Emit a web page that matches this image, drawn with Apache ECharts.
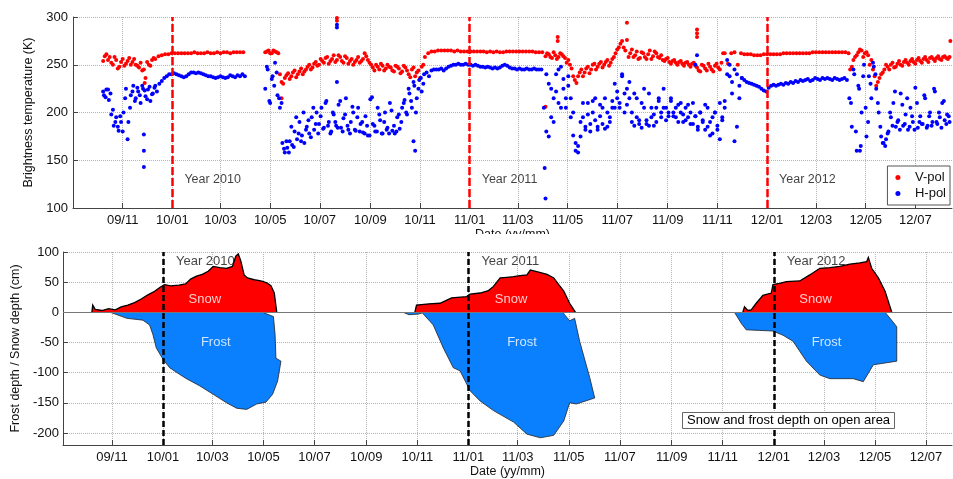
<!DOCTYPE html>
<html>
<head>
<meta charset="utf-8">
<title>Brightness temperature and snow / frost depth</title>
<script src="https://cdn.jsdelivr.net/npm/echarts@6/dist/echarts.min.js"></script>
<style>
  html, body { margin: 0; padding: 0; background: #fff; }
  #chart { width: 953px; height: 479px; }
</style>
</head>
<body>
<div id="chart"></div>
<script>
// tick labels (yy/mm), every second month
const monthTicks = ['2009-11-01', '2010-01-01', '2010-03-01', '2010-05-01', '2010-07-01', '2010-09-01',
  '2010-11-01', '2011-01-01', '2011-03-01', '2011-05-01', '2011-07-01', '2011-09-01', '2011-11-01',
  '2012-01-01', '2012-03-01', '2012-05-01', '2012-07-01']
const depthTicks = [-200, -150, -100, -50, 0, 50, 100]
const yearLines = ['2010-01-01', '2011-01-01', '2012-01-01']
const yearNames = ['Year 2010', 'Year 2011', 'Year 2012']

// V-pol brightness temperature (K), one reading every 4 days from each start date
const vStep = 4
const vpol1 = [
  254, 261, 258, 250, 255, 248, 256, 251, 257, 253,
  250, 247, 244, 236, 250, 255, 256, 259, 260, 261,
  261, 262, 262, 262, 262, 262, 262, 262, 263, 262,
  262, 262, 263, 262, 262, 263, 262, 263, 263, 262,
  263, 263, 263, 263]
const vpol2 = [
  263, 265, 262, 264, 262, 232, 236, 241, 238, 244,
  240, 246, 243, 248, 245, 251, 249, 256, 252, 258,
  254, 260, 255, 258, 252, 257, 254, 250, 255, 252,
  256, 259, 252, 247, 250, 245, 249, 246, 248, 244,
  249, 246, 243, 247, 240, 245, 238, 244, 248, 258,
  262, 264, 264, 265, 265, 265, 265, 265, 264, 265,
  264, 264, 264, 264, 264, 264, 264, 264, 263, 264,
  263, 264, 263, 263, 264, 264, 264, 264, 264, 264,
  264, 264, 264, 263, 263, 263, 259, 261, 257, 260,
  258, 261, 257, 255, 246, 234, 238, 245, 242, 248,
  245, 251, 248, 253, 250, 255, 252, 258, 266, 272,
  268, 276, 262, 258, 264, 257, 262, 256, 265, 259,
  262, 257, 255, 256, 253, 254, 252, 253, 251, 252,
  250, 251, 249, 244, 250, 246, 251, 245, 249, 247,
  252, 262, 251, 262, 263, 250, 262, 261, 261, 261,
  260, 260, 260, 261, 261, 261, 261, 261, 261, 262,
  262, 262, 262, 262, 262, 262, 262, 262, 263, 263,
  263, 263, 263, 263, 263, 263, 263, 263, 263, 262,
  248, 258, 263, 265, 262, 260, 255, 238, 232, 240,
  245, 248, 250, 247, 251, 250, 253, 252, 254, 253,
  255, 254, 256, 255, 257, 256, 257, 256, 258, 257,
  258]
// second reading in the noisier stretches
const vpolB1 = [259, 255, 252, 258, 246, 253, 249, 254, 250, 256, 249, 252, 245, 253, 249, 257]
const vpolB2 = [
  264, 262, 265, 263, 240, 230, 239, 235, 242, 237,
  243, 240, 245, 250, 247, 253, 250, 254, 257, 251,
  256, 253, 260, 254, 259, 251, 256, 253, 258, 254,
  262, 255, 250, 244, 248, 251, 244, 250, 247, 243,
  248, 241, 249, 244, 237, 247, 242, 236, 250]
const vpolB3 = [
  262, 258, 263, 256, 262, 259, 252, 250, 238, 231,
  242, 238, 246, 241, 250, 245, 251, 247, 253, 249,
  256, 262, 268, 275, 265, 258, 266, 260, 256, 263,
  258, 261, 256, 264, 258, 260, 254, 257, 251, 255,
  250, 254, 249, 253, 248, 252, 247, 243, 249, 244,
  248, 243, 251, 245, 262]
const vpolB4 = [
  245, 255, 260, 266, 258, 263, 250, 245, 228, 236,
  242, 250, 245, 252, 248, 254, 249, 255, 250, 256,
  251, 257, 252, 258, 253, 258, 254, 259, 255, 259,
  256]
const vpolOdd = [['2009-11-28', 231], ['2010-05-15', 215], ['2010-07-22', 299], ['2010-07-22', 296],
  ['2011-04-04', 206], ['2011-04-19', 279], ['2011-04-19', 275], ['2011-07-13', 294],
  ['2011-10-07', 287], ['2011-10-07', 283], ['2011-10-07', 279], ['2012-08-13', 275]]
const vRuns = [['2009-10-08', vpol1], ['2010-04-25', vpol2], ['2009-10-10', vpolB1],
  ['2010-04-27', vpolB2], ['2011-04-06', vpolB3], ['2012-04-12', vpolB4]]

// H-pol brightness temperature (K), one reading every 3 days
const hStep = 3
const hpol1 = [
  222, 216, 224, 220, 203, 190, 185, 196, 180, 215,
  172, 205, 222, 212, 226, 218, 228, 223, 214, 227,
  219, 226, 222, 230, 233, 236, 238, 240, 240, 241,
  240, 239, 238, 237, 238, 240, 242, 242, 241, 242,
  241, 240, 239, 238, 238, 237, 236, 237, 238, 237,
  236, 237, 239, 238, 237, 239, 238, 240, 238]
const hpol2 = [
  225, 245, 210, 238, 252, 218, 205, 168, 158, 163,
  170, 166, 180, 172, 190, 176, 168, 185, 178, 195,
  182, 200, 188, 205, 184, 212, 190, 180, 198, 186,
  208, 184, 194, 215, 182, 190, 200, 181, 205, 188,
  179, 196, 176, 214, 188, 180, 205, 192, 178, 200,
  184, 210, 181, 178, 195, 183, 205, 213, 198, 220,
  205, 228, 215, 234, 222, 240, 242, 238, 244, 245,
  245, 245, 246, 244, 246, 248, 249, 250, 250, 251,
  250, 250, 251, 250, 250, 249, 250, 249, 248, 248,
  247, 248, 247, 246, 247, 246, 247, 249, 250, 249,
  247, 246, 246, 245, 246, 245, 245, 246, 245, 245,
  246, 245, 245, 245, 205, 180, 230, 195, 215, 240,
  210, 248, 225, 205, 238, 215, 200, 168, 158, 175,
  195, 182, 210, 188, 200, 215, 185, 196, 205, 183,
  200, 190, 212, 205, 222, 210, 238, 200, 225, 215,
  190, 220, 195, 188, 210, 225, 192, 186, 205, 198,
  190, 215, 200, 225, 205, 196, 212, 200, 195, 208,
  200, 190, 205, 195, 188, 210, 196, 185, 200, 192,
  182, 205, 190, 178, 200, 186, 210, 195, 205, 240,
  250, 232, 170, 240, 215, 236, 234, 232, 231, 230,
  229, 228, 227, 225, 223, 222, 226, 228, 229, 228,
  229, 230, 229, 231, 230, 232, 231, 233, 232, 234,
  233, 234, 235, 233, 234, 236, 235, 234, 236, 235,
  236, 235, 234, 236, 235, 234, 235, 236, 234, 215,
  185, 240, 160, 225, 200, 250, 175, 238, 215, 248,
  225, 200, 175, 168, 172, 180, 195, 210, 185, 192,
  220, 186, 198, 182, 205, 190, 226, 184, 196, 188,
  215, 186, 200, 190, 222, 188, 195, 210, 192, 198,
  190]
// second reading in the noisier stretches
const hpolB1 = [218, 224, 213, 198, 186, 195, 181, 190, 200, 225, 190, 218, 228, 215, 222, 210, 225,
  217, 224, 212, 220, 228]
const hpolB2 = [
  248, 212, 235, 228, 242, 215, 210, 162, 170, 158,
  185, 164, 195, 178, 170, 200, 182, 192, 174, 205,
  188, 178, 196, 183, 210, 186, 178, 200, 190, 184,
  212, 180, 198, 186, 178, 206, 182, 195, 180, 190,
  178, 186, 176, 216, 186, 180, 198, 178, 190, 182,
  178, 202, 186, 180, 198, 190, 210, 200, 225, 212,
  232, 200, 225, 236, 230]
const hpolB3 = [
  240, 175, 225, 190, 222, 245, 205, 235, 215, 228,
  195, 176, 160, 165, 190, 210, 185, 198, 180, 212,
  192, 182, 208, 188, 215, 185, 195, 205, 230, 215,
  205, 240, 220, 208, 232, 200, 186, 215, 192, 184,
  205, 188, 220, 195, 186, 205, 212, 195, 205, 192,
  200, 215, 196, 205, 190, 210, 198, 192, 208, 200,
  188, 196, 182, 200, 190, 208, 185, 176, 195, 200,
  182, 172, 192, 212, 255, 238, 220, 245, 185, 228,
  236]
const hpolB4 = [
  210, 245, 180, 228, 165, 238, 205, 190, 230, 252,
  240, 210, 185, 168, 165, 178, 200, 186, 222, 190,
  182, 208, 188, 215, 185, 196, 182, 210, 190, 188,
  218, 184, 196, 186, 225, 190, 200, 184, 212, 188,
  196]
const hpolOdd = [['2009-11-27', 143], ['2009-11-27', 160], ['2009-11-27', 177], ['2010-07-22', 292],
  ['2010-07-22', 289], ['2010-07-22', 232], ['2010-10-24', 170], ['2010-10-26', 160],
  ['2011-04-03', 142], ['2011-04-04', 110], ['2011-10-07', 260], ['2011-10-05', 250],
  ['2012-04-24', 160]]
const hRuns = [['2009-10-08', hpol1], ['2010-04-25', hpol2], ['2009-10-09', hpolB1],
  ['2010-04-27', hpolB2], ['2011-04-05', hpolB3], ['2012-04-13', hpolB4]]

// snow depth (cm) and frost depth (cm, negative), outline of each winter
const snow2010 = [['2009-10-08', 0], ['2009-10-09', 12], ['2009-10-12', 5], ['2009-10-20', 3], ['2009-10-28', 6],
  ['2009-11-05', 4], ['2009-11-12', 9], ['2009-11-20', 12], ['2009-11-28', 16], ['2009-12-06', 22],
  ['2009-12-14', 29], ['2009-12-22', 35], ['2009-12-29', 42], ['2010-01-03', 46], ['2010-01-10', 44],
  ['2010-01-20', 45], ['2010-01-28', 47], ['2010-02-03', 55], ['2010-02-10', 60], ['2010-02-17', 63],
  ['2010-02-24', 68], ['2010-03-02', 76], ['2010-03-10', 74], ['2010-03-18', 73], ['2010-03-25', 76],
  ['2010-03-29', 93], ['2010-04-01', 97], ['2010-04-04', 85], ['2010-04-08', 62], ['2010-04-12', 57],
  ['2010-04-20', 54], ['2010-04-28', 52], ['2010-05-05', 49], ['2010-05-10', 44], ['2010-05-14', 32],
  ['2010-05-17', 0]]
const frost2010 = [['2009-10-30', 0], ['2009-11-19', -10], ['2009-12-08', -13], ['2009-12-16', -21],
  ['2009-12-20', -37], ['2009-12-24', -59], ['2010-01-01', -78], ['2010-01-09', -92], ['2010-01-21', -103],
  ['2010-01-29', -110], ['2010-02-14', -122], ['2010-03-02', -136], ['2010-03-18', -150], ['2010-03-30', -159],
  ['2010-04-11', -161], ['2010-04-23', -152], ['2010-05-04', -149], ['2010-05-12', -136], ['2010-05-18', -114],
  ['2010-05-22', -81], ['2010-05-16', -76], ['2010-05-15', -37], ['2010-05-13', -7], ['2010-04-30', 0]]
const snow2011 = [['2010-10-29', 0], ['2010-10-31', 12], ['2010-11-15', 14], ['2010-11-28', 15], ['2010-12-12', 24],
  ['2010-12-30', 26], ['2011-01-03', 30], ['2011-01-15', 32], ['2011-01-25', 36], ['2011-01-31', 43],
  ['2011-02-08', 57], ['2011-02-16', 58], ['2011-02-24', 59], ['2011-03-04', 61], ['2011-03-12', 62],
  ['2011-03-16', 70], ['2011-03-25', 67], ['2011-04-05', 63], ['2011-04-13', 57], ['2011-04-19', 46],
  ['2011-04-25', 35], ['2011-05-02', 15], ['2011-05-09', 0]]
const frost2011 = [['2010-10-15', 0], ['2010-10-22', -4], ['2010-11-02', -3], ['2010-11-07', -1], ['2010-11-20', -21],
  ['2010-12-02', -59], ['2010-12-14', -92], ['2010-12-22', -97], ['2011-01-03', -130], ['2011-01-15', -147],
  ['2011-01-31', -163], ['2011-02-24', -182], ['2011-03-12', -202], ['2011-03-28', -208], ['2011-04-13', -204],
  ['2011-04-25', -180], ['2011-05-02', -150], ['2011-05-10', -152], ['2011-06-01', -142], ['2011-05-26', -108],
  ['2011-05-14', -48], ['2011-05-08', -10], ['2011-05-02', -14], ['2011-04-26', -4], ['2011-04-24', 0]]
const snow2012 = [['2011-11-25', 0], ['2011-11-27', 9], ['2011-12-01', 3], ['2011-12-05', 4], ['2011-12-11', 15],
  ['2011-12-19', 28], ['2011-12-29', 32], ['2011-12-31', 46], ['2012-01-08', 48], ['2012-01-16', 51],
  ['2012-02-01', 52], ['2012-02-13', 62], ['2012-02-25', 73], ['2012-03-08', 74], ['2012-03-20', 76],
  ['2012-04-01', 80], ['2012-04-13', 82], ['2012-04-21', 84], ['2012-04-23', 91], ['2012-04-27', 73],
  ['2012-05-05', 57], ['2012-05-13', 35], ['2012-05-21', 0]]
const frost2012 = [['2011-11-15', 0], ['2011-11-23', -18], ['2011-11-29', -29], ['2011-12-15', -30],
  ['2011-12-31', -31], ['2012-01-12', -38], ['2012-01-24', -48], ['2012-02-09', -81], ['2012-02-25', -104],
  ['2012-03-08', -110], ['2012-04-05', -110], ['2012-04-17', -115], ['2012-04-29', -87], ['2012-05-27', -81],
  ['2012-05-27', -24], ['2012-05-19', -10], ['2012-05-13', 0]]

// where the white "Snow" / "Frost" words sit
const snowLabelAt = [['2010-02-20', 21], ['2011-02-21', 21], ['2012-02-20', 21]]
const frostLabelAt = [['2010-03-05', -50], ['2011-03-06', -50], ['2012-03-04', -50]]

const FONT = '"Liberation Sans", Arial, sans-serif'

function day(s, plus) {
  const p = s.split('-').map(Number)
  return new Date(p[0], p[1] - 1, p[2] + (plus || 0)).getTime()
}
function run(start, step, vals) {
  return vals.map((v, i) => [day(start, i * step), v])
}
function pairs(list) {
  return list.map(p => [day(p[0]), p[1]])
}
function yymm(value) {
  const d = new Date(value)
  return String(d.getFullYear()).slice(2) + '/' + String(d.getMonth() + 1).padStart(2, '0')
}

const tickTimes = monthTicks.map(d => day(d))
let vpolData = pairs(vpolOdd)
vRuns.forEach(r => { vpolData = run(r[0], vStep, r[1]).concat(vpolData) })
let hpolData = pairs(hpolOdd)
hRuns.forEach(r => { hpolData = run(r[0], hStep, r[1]).concat(hpolData) })

// filled outline drawn through the axes of the lower grid
function depthArea(outline, fill, edge, edgeWidth) {
  const pts = pairs(outline)
  return {
    type: 'custom',
    xAxisIndex: 1,
    yAxisIndex: 1,
    silent: true,
    z: 2,
    data: [pts[0]],
    renderItem: function (params, api) {
      const xy = pts.map(p => api.coord(p))
      return {
        type: 'group',
        children: [
          { type: 'polygon', shape: { points: xy }, style: { fill: fill } },
          { type: 'polyline', shape: { points: xy }, style: { fill: null, stroke: edge, lineWidth: edgeWidth } }
        ]
      }
    }
  }
}

// dates are kept as millisecond numbers on a plain value axis
function dateAxis(grid, min, max) {
  return {
    type: 'value',
    gridIndex: grid,
    min: min,
    max: max,
    axisLine: { onZero: false, lineStyle: { color: '#444', width: 1 } },
    axisTick: { inside: true, length: 5, customValues: tickTimes, lineStyle: { color: '#444' } },
    axisLabel: { customValues: tickTimes, formatter: yymm, fontSize: 13, color: '#111', margin: 6, fontFamily: FONT },
    splitLine: { show: true, lineStyle: { type: 'dotted', color: '#b5b5b5', width: 1 } },
    name: 'Date (yy/mm)',
    nameLocation: 'middle',
    nameGap: 20,
    nameTextStyle: { fontSize: 12.5, color: '#111', fontFamily: FONT }
  }
}

const chart = echarts.init(document.getElementById('chart'), null, { renderer: 'canvas' })

const option = {
  animation: false,
  textStyle: { fontFamily: FONT },
  grid: [
    { left: 73, right: 1, top: 17, height: 191, containLabel: false },
    { left: 63, right: 1, top: 252, height: 194, containLabel: false }
  ],
  legend: {
    data: ['V-pol', 'H-pol'],
    orient: 'vertical',
    right: 3,
    top: 166,
    icon: 'circle',
    itemWidth: 24,
    itemHeight: 5,
    itemGap: 3,
    padding: [5, 4, 5, 8],
    borderColor: '#555',
    borderWidth: 1,
    backgroundColor: '#fff',
    textStyle: { fontSize: 13, color: '#111', fontFamily: FONT }
  },
  title: {
    text: 'Snow and frost depth on open area',
    left: 682,
    top: 412,
    padding: [2, 5],
    borderColor: '#666',
    borderWidth: 1,
    backgroundColor: '#fff',
    textStyle: { fontSize: 13, fontWeight: 'normal', color: '#000', fontFamily: FONT }
  },
  xAxis: [
    dateAxis(0, day('2009-09-01'), day('2012-08-15')),
    dateAxis(1, day('2009-09-03') + 12 * 3600e3, day('2012-08-01'))
  ],
  yAxis: [
    {
      type: 'value',
      gridIndex: 0,
      min: 100,
      max: 300,
      interval: 50,
      axisLine: { show: true, lineStyle: { color: '#444' } },
      axisTick: { show: true, inside: true, length: 5, lineStyle: { color: '#444' } },
      axisLabel: { fontSize: 13, color: '#111', margin: 5, fontFamily: FONT },
      splitLine: { show: true, lineStyle: { type: 'dotted', color: '#b5b5b5' } },
      name: 'Brightness temperature (K)',
      nameLocation: 'middle',
      nameGap: 31,
      nameTextStyle: { fontSize: 12.5, color: '#111', fontFamily: FONT }
    },
    {
      type: 'value',
      gridIndex: 1,
      min: -220,
      max: 100,
      axisLine: { show: true, onZero: false, lineStyle: { color: '#444' } },
      axisTick: { show: true, inside: true, length: 5, customValues: depthTicks, lineStyle: { color: '#444' } },
      axisLabel: { customValues: depthTicks, fontSize: 13, color: '#111', margin: 4, fontFamily: FONT },
      splitLine: { show: true, lineStyle: { type: 'dotted', color: '#b5b5b5' } },
      name: 'Frost depth / Snow depth (cm)',
      nameLocation: 'middle',
      nameGap: 37,
      nameTextStyle: { fontSize: 12.5, color: '#111', fontFamily: FONT }
    }
  ],
  graphic: [
    // the lower panel hides most of the upper date label
    { type: 'rect', left: 300, top: 234, shape: { width: 420, height: 16 }, style: { fill: '#fff' }, z: 100, silent: true }
  ],
  series: [
    {
      name: 'V-pol',
      type: 'scatter',
      xAxisIndex: 0,
      yAxisIndex: 0,
      symbolSize: 4,
      itemStyle: { color: '#ff0000', opacity: 1 },
      data: vpolData
    },
    {
      name: 'H-pol',
      type: 'scatter',
      xAxisIndex: 0,
      yAxisIndex: 0,
      symbolSize: 4,
      itemStyle: { color: '#0000ff', opacity: 1 },
      data: hpolData,
      markLine: {
        silent: true,
        symbol: 'none',
        label: { show: false },
        lineStyle: { color: '#ff0000', type: [8, 3], width: 2.5, opacity: 1 },
        data: yearLines.map(d => ({ xAxis: day(d) }))
      }
    },
    {
      // year captions in the upper panel
      type: 'scatter',
      xAxisIndex: 0,
      yAxisIndex: 0,
      symbolSize: 0,
      silent: true,
      data: yearLines.map((d, i) => ({ value: [day(d), 130], name: yearNames[i] })),
      label: { show: true, position: 'right', distance: 12, formatter: '{b}', fontSize: 12.5, color: '#111', fontFamily: FONT }
    },
    depthArea(snow2010, '#ff0000', '#000', 1.3),
    depthArea(frost2010, '#0a80ff', '#222', 0.8),
    depthArea(snow2011, '#ff0000', '#000', 1.3),
    depthArea(frost2011, '#0a80ff', '#222', 0.8),
    depthArea(snow2012, '#ff0000', '#000', 1.3),
    depthArea(frost2012, '#0a80ff', '#222', 0.8),
    {
      // zero line, year lines and captions of the lower panel
      type: 'scatter',
      xAxisIndex: 1,
      yAxisIndex: 1,
      symbolSize: 0,
      silent: true,
      z: 5,
      data: yearLines.map((d, i) => ({ value: [day(d), 85], name: yearNames[i] })),
      label: { show: true, position: 'right', distance: 13, formatter: '{b}', fontSize: 13, color: '#111', fontFamily: FONT },
      markLine: {
        silent: true,
        symbol: 'none',
        label: { show: false },
        data: [
          { yAxis: 0, lineStyle: { color: '#777', type: 'solid', width: 1 } }
        ].concat(yearLines.map(d => ({ xAxis: day(d), lineStyle: { color: '#000', type: [6, 3], width: 2.5 } })))
      }
    },
    {
      type: 'scatter',
      xAxisIndex: 1,
      yAxisIndex: 1,
      symbolSize: 0,
      silent: true,
      z: 5,
      data: snowLabelAt.map(p => ({ value: [day(p[0]), p[1]], name: 'Snow' }))
        .concat(frostLabelAt.map(p => ({ value: [day(p[0]), p[1]], name: 'Frost' }))),
      label: { show: true, position: 'inside', formatter: '{b}', fontSize: 13, color: '#fff', fontFamily: FONT }
    }
  ]
}

chart.setOption(option)
</script>
</body>
</html>
